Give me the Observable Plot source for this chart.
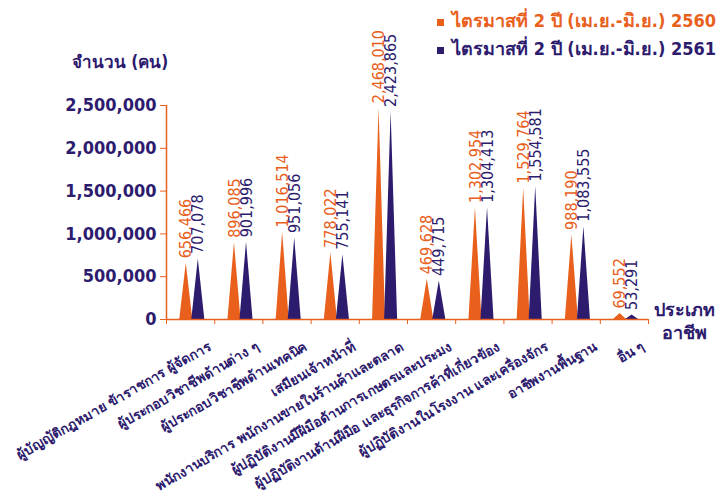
<!DOCTYPE html>
<html>
<head>
<meta charset="utf-8">
<script src="https://cdn.jsdelivr.net/npm/d3@7"></script>
<script src="https://cdn.jsdelivr.net/npm/@observablehq/plot@0.6"></script>
<style>
  body { margin: 0; background: #fff; }
  #wrap { position: relative; width: 726px; height: 496px; overflow: hidden; background: #fff; font-family: "DejaVu Sans Condensed", "DejaVu Sans", sans-serif; }
  #wrap svg { position: absolute; left: 0; top: 0; }
  .lbl { position: absolute; white-space: nowrap; font-weight: bold; color: #2d1b6e; }
  .leg { position: absolute; white-space: nowrap; font-weight: bold; font-size: 18px; line-height: 1; }
  .sw { display: inline-block; width: 7px; height: 7px; margin-right: 8px; vertical-align: middle; }
</style>
</head>
<body>
<div id="wrap">
  <div class="leg" id="leg0" style="left:437px; top:12px;"></div>
  <div class="leg" id="leg1" style="left:437px; top:40px;"></div>
  <div class="lbl" id="ytitle" style="left:72px; top:51px; font-size:17px; line-height:22px;"></div>
  <div class="lbl" id="xtitle" style="left:654px; top:298px; font-size:18px; line-height:23px; text-align:center;"></div>
</div>
<script>
const categories = [
  "ผู้บัญญัติกฎหมาย ข้าราชการ ผู้จัดการ",
  "ผู้ประกอบวิชาชีพด้านต่าง ๆ",
  "ผู้ประกอบวิชาชีพด้านเทคนิค",
  "เสมียนเจ้าหน้าที่",
  "พนักงานบริการ พนักงานขายในร้านค้าและตลาด",
  "ผู้ปฏิบัติงานมีฝีมือด้านการเกษตรและประมง",
  "ผู้ปฏิบัติงานด้านฝีมือ และธุรกิจการค้าที่เกี่ยวข้อง",
  "ผู้ปฏิบัติงานในโรงงาน และเครื่องจักร",
  "อาชีพงานพื้นฐาน",
  "อื่น ๆ"
];
const values2560 = [656466, 896085, 1016514, 778022, 2468010, 469628, 1302954, 1529764, 988190, 69552];
const values2561 = [707078, 901996, 951056, 755141, 2423865, 449715, 1304413, 1554581, 1083555, 53291];
const seriesNames = ["ไตรมาสที่ 2 ปี (เม.ย.-มิ.ย.) 2560", "ไตรมาสที่ 2 ปี (เม.ย.-มิ.ย.) 2561"];
const yTicks = [0, 500000, 1000000, 1500000, 2000000, 2500000];
const yTitle = "จำนวน (คน)";
const xTitle = ["ประเภท", "อาชีพ"];

const ORANGE = "#e8601c";
const PURPLE = "#2d1b6e";
const colors = [ORANGE, PURPLE];

// within-category layout (fraction of a category slot)
const centers = [0.41, 0.66];
const halfW = 0.135;

const seriesValues = [values2560, values2561];
const tri = [];
const apex = [];
seriesValues.forEach((vals, s) => {
  vals.forEach((v, i) => {
    const c = i + centers[s];
    const key = s + "-" + i;
    tri.push({x: c - halfW, y: 0, key, series: seriesNames[s]});
    tri.push({x: c, y: v, key, series: seriesNames[s]});
    tri.push({x: c + halfW, y: 0, key, series: seriesNames[s]});
    apex.push({x: c, y: v, series: seriesNames[s], label: d3.format(",")(v)});
  });
});
const cats = categories.map((name, i) => ({name, x: i + 0.5}));

const fmt = d3.format(",");
const plot = Plot.plot({
  width: 726,
  height: 496,
  marginLeft: 166,
  marginRight: 78,
  marginTop: 105,
  marginBottom: 177,
  style: {background: "transparent", fontFamily: "'DejaVu Sans Condensed', 'DejaVu Sans', sans-serif"},
  x: {domain: [0, categories.length], axis: null},
  y: {domain: [0, 2500000], axis: null},
  color: {domain: seriesNames, range: colors},
  marks: [
    Plot.areaY(tri, {x: "x", y: "y", z: "key", fill: "series", curve: "linear"}),
    Plot.text(apex, {x: "x", y: "y", text: "label", rotate: -90, textAnchor: "start", dy: -5, fill: "series", fontSize: 16}),
    Plot.ruleY([0], {stroke: ORANGE, strokeWidth: 1.5}),
    Plot.ruleX([0], {y1: 0, y2: 2500000, stroke: ORANGE, strokeWidth: 1.5}),
    Plot.axisY({ticks: yTicks, tickFormat: fmt, label: null, tickSize: 6, tickPadding: 4, stroke: ORANGE, fill: PURPLE, fontSize: 18, fontWeight: "bold"}),
    Plot.axisX({ticks: d3.range(0, categories.length + 1), tickFormat: () => "", label: null, tickSize: 5, stroke: ORANGE}),
    Plot.text(cats, {x: "x", y: 0, text: "name", rotate: -30, textAnchor: "end", dx: 19, dy: 26, fill: PURPLE, fontSize: 13.5, fontWeight: "bold"})
  ]
});
const wrap = document.getElementById("wrap");
wrap.insertBefore(plot, wrap.firstChild);

seriesNames.forEach((n, s) => {
  const el = document.getElementById("leg" + s);
  el.style.color = colors[s];
  el.innerHTML = `<span class="sw" style="background:${colors[s]}"></span>`;
  el.appendChild(document.createTextNode(n));
});
document.getElementById("ytitle").textContent = yTitle;
document.getElementById("xtitle").innerHTML = xTitle.join("<br>");
</script>
</body>
</html>
